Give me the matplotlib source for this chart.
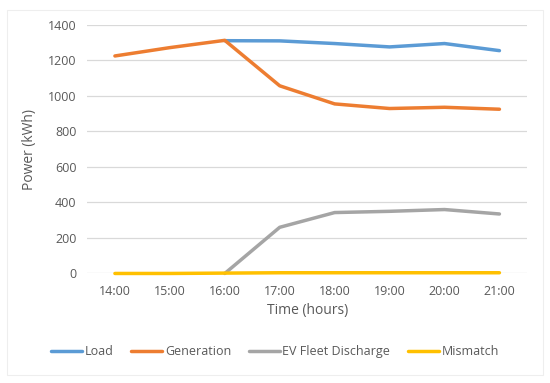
import matplotlib.pyplot as plt
from matplotlib.patches import Rectangle

# datos
hours = ["14:00", "15:00", "16:00", "17:00", "18:00", "19:00", "20:00", "21:00"]
load = [None, None, 1311, 1310, 1295, 1276, 1295, 1255]
generation = [1225, 1272, 1313, 1057, 955, 929, 936, 925]
ev_discharge = [None, None, 0, 260, 343, 350, 360, 335]
mismatch = [0, 0, 2, 4, 4, 4, 4, 4]

series = [
    ("Load", load, "#5B9BD5"),
    ("Generation", generation, "#ED7D31"),
    ("EV Fleet Discharge", ev_discharge, "#A5A5A5"),
    ("Mismatch", mismatch, "#FFC000"),
]

plt.rcParams["font.family"] = ["Open Sans", "DejaVu Sans"]
txt = "#595959"

fig = plt.figure(figsize=(5.5, 3.83), dpi=100)
ax = fig.add_axes([0.159, 0.286, 0.799, 0.649])

x = list(range(len(hours)))
for name, vals, col in series:
    xs = [i for i, v in zip(x, vals) if v is not None]
    ys = [v for v in vals if v is not None]
    ax.plot(xs, ys, color=col, lw=2.5, label=name, solid_capstyle="round", clip_on=False)

ax.set_xlim(-0.5, len(hours) - 0.5)
ax.set_ylim(0, 1400)
ax.set_yticks(range(0, 1401, 200))
ax.set_xticks(x)
ax.set_xticklabels(hours)
ax.grid(axis="y", color="#D9D9D9", lw=0.9)
ax.set_axisbelow(True)
for s in ax.spines.values():
    s.set_visible(False)
ax.tick_params(length=0, colors=txt, labelsize=9, pad=8)
ax.set_xlabel("Time (hours)", color=txt, fontsize=10, labelpad=4)
ax.set_ylabel("Power (kWh)", color=txt, fontsize=10, labelpad=8)

leg = fig.legend(loc="center", bbox_to_anchor=(0.5, 0.082), ncol=4, frameon=False,
                 fontsize=9, handlelength=2.5, handletextpad=0.2, columnspacing=1.4)
for t in leg.get_texts():
    t.set_color(txt)

fig.patches.append(Rectangle((0.012, 0.02), 0.975, 0.955, transform=fig.transFigure,
                             fill=False, edgecolor="#EEEEEE", lw=0.8))

fig.savefig("out.png", dpi=100)
